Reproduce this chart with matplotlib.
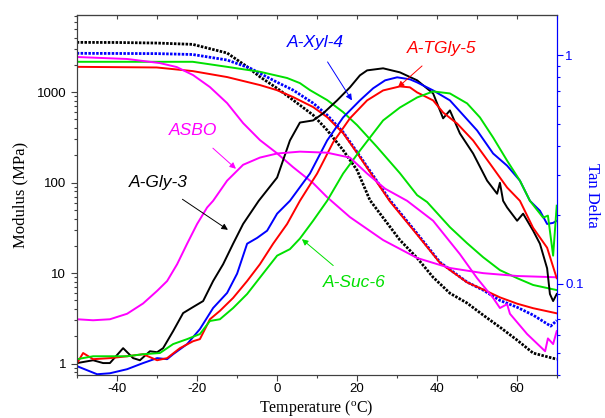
import matplotlib
matplotlib.use("Agg")
import matplotlib.pyplot as plt
from matplotlib.ticker import FixedLocator, FuncFormatter, LogLocator, NullFormatter, MultipleLocator

plt.rcParams['axes.unicode_minus'] = False
plt.rcParams['font.family'] = ['Liberation Sans', 'DejaVu Sans']

# ---------------- Storage modulus (MPa), left axis ----------------
gly3_mod_T = [-50, -40, -30, -21, -12.4, -7.4, -4.2, 0, 4.1, 9.1, 12.6, 16.6, 20.1, 23.3,
              30.8, 35.1, 39.1, 43.3, 47.6, 51.6, 55.8, 60.1, 64.1, 70]
gly3_mod = [3540, 3530, 3480, 3365, 2700, 1905, 1475, 1108, 816, 557, 380, 228, 137, 64,
            23.2, 14.7, 9.0, 6.0, 4.67, 3.44, 2.53, 1.82, 1.31, 1.12]

xyl4_mod_T = [-50, -30, -21, -12.4, -6.7, 0, 4.1, 9.1, 12.6, 16.6, 20.1, 28.3, 35, 40.8,
              47.6, 51.6, 55.8, 60.1, 64.1, 68.5, 70]
xyl4_mod = [2680, 2660, 2600, 2260, 1840, 1290, 1052, 755, 557, 361, 217, 64, 27.7, 13.2,
            7.96, 6.5, 5.0, 4.2, 3.44, 2.6, 3.0]

tgly5_mod_T = [-50, -30, -21, -12.4, -4.2, 0, 4.1, 9.1, 12.6, 16.6, 20.1, 28.3, 35, 40.8,
               47.6, 51.6, 55.8, 60.1, 64.1, 70]
tgly5_mod = [1900, 1870, 1705, 1465, 1195, 1052, 881, 683, 529, 352, 212, 62, 27, 13.0,
             7.9, 6.6, 5.4, 4.6, 4.1, 3.6]

suc6_mod_T = [-50, -30, -21, -12.4, -4.2, 2.6, 5.8, 8.3, 12.6, 16.6, 20.1, 25.1, 30.8, 35.1,
              37.6, 43.3, 47.6, 51.6, 55.8, 60.1, 64.1, 70]
suc6_mod = [2160, 2160, 2160, 1900, 1676, 1430, 1256, 1052, 816, 601, 431, 247, 127, 72.7,
            61, 32.2, 21.4, 15.0, 10.8, 8.8, 7.4, 6.5]

asbo_mod_T = [-50, -37.4, -29.2, -25, -20.9, -16.7, -12.4, -8.4, -4.2, 0, 4.1, 9.1, 12.6,
              18.3, 26.6, 35.1, 43.3, 51.6, 60.1, 70]
asbo_mod = [2440, 2320, 2090, 1890, 1540, 1136, 755, 454, 295, 212, 148, 98.7, 69,
            41.6, 23.2, 14.7, 11.4, 10.0, 9.3, 9.0]

# ---------------- Tan Delta, right axis ----------------
gly3_td_T = [-49.9, -45.9, -43.4, -41.7, -38.4, -35.9, -34.2, -31.7, -29.9, -28.4, -25.9, -23.4,
             -20.9, -18.4, -15.9, -13.4, -10.9, -8.4, -4.5, 0.1, 3.3, 5.8, 9.1, 11.6, 15.1, 18.3,
             20.8, 22.6, 26.6, 30.8, 35.1, 39.1, 41.6, 43.3, 45.8, 49.1, 52.6, 55.1, 55.8, 56.6,
             57.6, 60.1, 61.6, 64.1, 65.8, 67.6, 68.3, 69.1, 70]
gly3_td = [0.0451, 0.0464, 0.0451, 0.0451, 0.0524, 0.0474, 0.0464, 0.0508, 0.0503, 0.0524, 0.0622,
           0.0746, 0.0793, 0.0842, 0.103, 0.122, 0.150, 0.183, 0.231, 0.292, 0.424, 0.508, 0.519,
           0.557, 0.635, 0.724, 0.817, 0.859, 0.877, 0.842, 0.777, 0.681, 0.530, 0.574, 0.455,
           0.372, 0.283, 0.248, 0.277, 0.231, 0.216, 0.189, 0.203, 0.171, 0.150, 0.117, 0.0904,
           0.0842, 0.0904]

xyl4_td_T = [-49.9, -44.9, -41.7, -37.4, -33.4, -29.9, -27.4, -25.9, -22.4, -19.2, -15.9, -12.4,
             -9.9, -7.4, -4.9, -2.4, 0.1, 3.3, 8.3, 12.6, 16.6, 20.8, 24.1, 27.1, 30.1, 33.3,
             35.1, 39.1, 43.3, 50.1, 54.1, 57.6, 60.8, 63.3, 65.8, 67.6, 69.1, 70]
xyl4_td = [0.0437, 0.0403, 0.0407, 0.0424, 0.0451, 0.0474, 0.0469, 0.0493, 0.0546, 0.0635,
           0.0785, 0.0914, 0.111, 0.150, 0.159, 0.171, 0.203, 0.231, 0.304, 0.424, 0.535, 0.635,
           0.717, 0.777, 0.801, 0.785, 0.761, 0.702, 0.635, 0.469, 0.372, 0.329, 0.283, 0.231,
           0.209, 0.183, 0.185, 0.189]

tgly5_td_T = [-49.9, -48.4, -45.9, -41.7, -37.4, -33.4, -29.9, -27.4, -24.2, -20.9, -19.2, -16.7,
              -14.2, -10.9, -7.4, -4.2, -0.9, 2.6, 5.8, 10.1, 14.1, 18.3, 22.6, 26.6, 30.8, 33.3,
              35.1, 39.1, 41.6, 45.1, 49.1, 53.3, 57.6, 60.8, 64.1, 67.6, 70]
tgly5_td = [0.0451, 0.0499, 0.0469, 0.0474, 0.0483, 0.0493, 0.0464, 0.0474, 0.0524, 0.0562,
            0.0574, 0.0701, 0.0763, 0.0869, 0.103, 0.122, 0.150, 0.183, 0.231, 0.304, 0.416,
            0.530, 0.635, 0.702, 0.731, 0.724, 0.688, 0.635, 0.562, 0.503, 0.424, 0.336, 0.264,
            0.231, 0.176, 0.144, 0.106]

suc6_td_T = [-49.9, -45.9, -37.4, -33.4, -29.2, -25.9, -22.4, -19.2, -16.7, -14.2, -10.9, -7.4,
             -2.4, 0.1, 3.3, 5.8, 9.1, 12.6, 16.6, 20.8, 26.6, 30.8, 35.1, 39.1, 43.3, 47.6,
             50.8, 54.1, 57.6, 60.8, 63.3, 66.6, 67.8, 69.1, 70]
suc6_td = [0.0469, 0.0483, 0.0483, 0.0493, 0.0499, 0.0546, 0.0574, 0.0604, 0.0689, 0.0701,
           0.0785, 0.0904, 0.117, 0.133, 0.142, 0.158, 0.189, 0.231, 0.304, 0.383, 0.519, 0.591,
           0.654, 0.695, 0.681, 0.616, 0.535, 0.437, 0.346, 0.283, 0.231, 0.195, 0.199, 0.133,
           0.220]

asbo_td_T = [-49.9, -45.9, -41.7, -37.4, -33.4, -29.9, -27.4, -24.9, -22.4, -19.9, -17.4, -15.9,
             -12.4, -8.4, -4.2, 0.1, 5.8, 12.6, 18.3, 22.6, 27.1, 32.6, 39.1, 45.8, 50.1, 54.1,
             55.8, 57.6, 58.3, 62.6, 67.1, 67.8, 69.1, 70]
asbo_td = [0.0701, 0.0694, 0.0701, 0.0741, 0.0822, 0.0933, 0.103, 0.122, 0.150, 0.183, 0.216,
           0.231, 0.283, 0.332, 0.357, 0.372, 0.379, 0.375, 0.357, 0.304, 0.261, 0.231, 0.189,
           0.135, 0.106, 0.0869, 0.0785, 0.0816, 0.0741, 0.0604, 0.0508, 0.0578, 0.0546, 0.0622]

x_ticks = [-40, -20, 0, 20, 40, 60]
mod_ticks = [1, 10, 100, 1000]
td_ticks = [0.1, 1]

BLACK, BLUE, RED, GREEN, MAGENTA = '#000000', '#0000ff', '#ff0000', '#00e000', '#ff00ff'

fig = plt.figure(figsize=(6.05, 4.18), dpi=100)
ax1 = fig.add_axes([0.1268, 0.1029, 0.7934, 0.8612])
ax2 = ax1.twinx()

lw = 1.4
dot = (0, (0.9, 0.5))
ax1.plot(gly3_mod_T, gly3_mod, color=BLACK, lw=2.0, ls=dot)
ax1.plot(xyl4_mod_T, xyl4_mod, color=BLUE, lw=2.0, ls=dot)
ax1.plot(tgly5_mod_T, tgly5_mod, color=RED, lw=lw)
ax1.plot(suc6_mod_T, suc6_mod, color=GREEN, lw=lw)
ax1.plot(asbo_mod_T, asbo_mod, color=MAGENTA, lw=lw)

ax2.plot(gly3_td_T, gly3_td, color=BLACK, lw=lw)
ax2.plot(xyl4_td_T, xyl4_td, color=BLUE, lw=lw)
ax2.plot(tgly5_td_T, tgly5_td, color=RED, lw=lw)
ax2.plot(suc6_td_T, suc6_td, color=GREEN, lw=lw)
ax2.plot(asbo_td_T, asbo_td, color=MAGENTA, lw=lw)

ax1.set_xlim(-50, 70)
ax1.set_yscale('log')
ax1.set_ylim(0.75, 7100)
ax2.set_yscale('log')
ax2.set_ylim(0.04, 1.5)

frame = '#404040'
for s in ['left', 'top', 'bottom']:
    ax1.spines[s].set_color(frame)
    ax2.spines[s].set_color(frame)
ax2.spines['right'].set_color(BLUE)
ax1.spines['right'].set_color(BLUE)

tick_font = 9.5
ax1.xaxis.set_major_locator(FixedLocator(x_ticks))
ax1.xaxis.set_minor_locator(MultipleLocator(10))
ax1.tick_params(axis='x', which='major', direction='out', length=4, width=0.8, pad=2,
                labelsize=tick_font, colors=frame, labelcolor='black')
ax1.tick_params(axis='x', which='minor', direction='out', length=2.5, width=0.8, colors=frame)

ax1.yaxis.set_major_locator(FixedLocator(mod_ticks))
ax1.yaxis.set_major_formatter(FuncFormatter(lambda v, p: f"{v:g}"))
ax1.yaxis.set_minor_locator(LogLocator(base=10, subs=range(2, 10), numticks=20))
ax1.yaxis.set_minor_formatter(NullFormatter())
ax1.tick_params(axis='y', which='major', direction='out', length=4, width=0.8,
                labelsize=tick_font, colors=frame, labelcolor='black')
ax1.tick_params(axis='y', which='minor', direction='out', length=2.5, width=0.8, colors=frame)

ax2.yaxis.set_major_locator(FixedLocator(td_ticks))
ax2.yaxis.set_major_formatter(FuncFormatter(lambda v, p: f"{v:g}"))
ax2.yaxis.set_minor_locator(LogLocator(base=10, subs=range(2, 10), numticks=20))
ax2.yaxis.set_minor_formatter(NullFormatter())
ax2.tick_params(axis='y', which='major', direction='out', length=4, width=0.8, pad=2,
                labelsize=tick_font, colors=BLUE, labelcolor=BLUE)
ax2.tick_params(axis='y', which='minor', direction='out', length=2.5, width=0.8, colors=BLUE)

top = ax1.secondary_xaxis('top')
top.xaxis.set_major_locator(MultipleLocator(10))
top.tick_params(axis='x', which='major', direction='in', length=3, width=0.8,
                labeltop=False, colors=frame)
top.spines['top'].set_color(frame)

serif = ['Liberation Serif', 'DejaVu Serif']
ax1.set_xlabel(r'Temperature ($\mathregular{^o}$C)', family=serif, fontsize=11.5, labelpad=2)
ax1.set_ylabel('Modulus (MPa)', family=serif, fontsize=12, labelpad=6)
ax2.set_ylabel('Tan Delta', family=serif, fontsize=12, color=BLUE, rotation=270, labelpad=12)

ann_fs = 12.5


def note(text, xy, xytext, color):
    ax2.annotate(text, xy=xy, xytext=xytext, color=color, fontsize=ann_fs, style='italic',
                 ha='center', va='center',
                 arrowprops=dict(arrowstyle='-|>', color=color, lw=0.7, mutation_scale=9,
                                 shrinkA=8, shrinkB=0))


note('A-Xyl-4', (18.8, 0.635), (9.6, 1.14), BLUE)
note('A-TGly-5', (30.3, 0.724), (41.3, 1.073), RED)
note('ASBO', (-10.2, 0.319), (-20.9, 0.469), MAGENTA)
note('A-Gly-3', (-12.2, 0.1725), (-29.7, 0.277), BLACK)
note('A-Suc-6', (6.3, 0.157), (19.3, 0.101), GREEN)

fig.savefig('out.png', dpi=100)
